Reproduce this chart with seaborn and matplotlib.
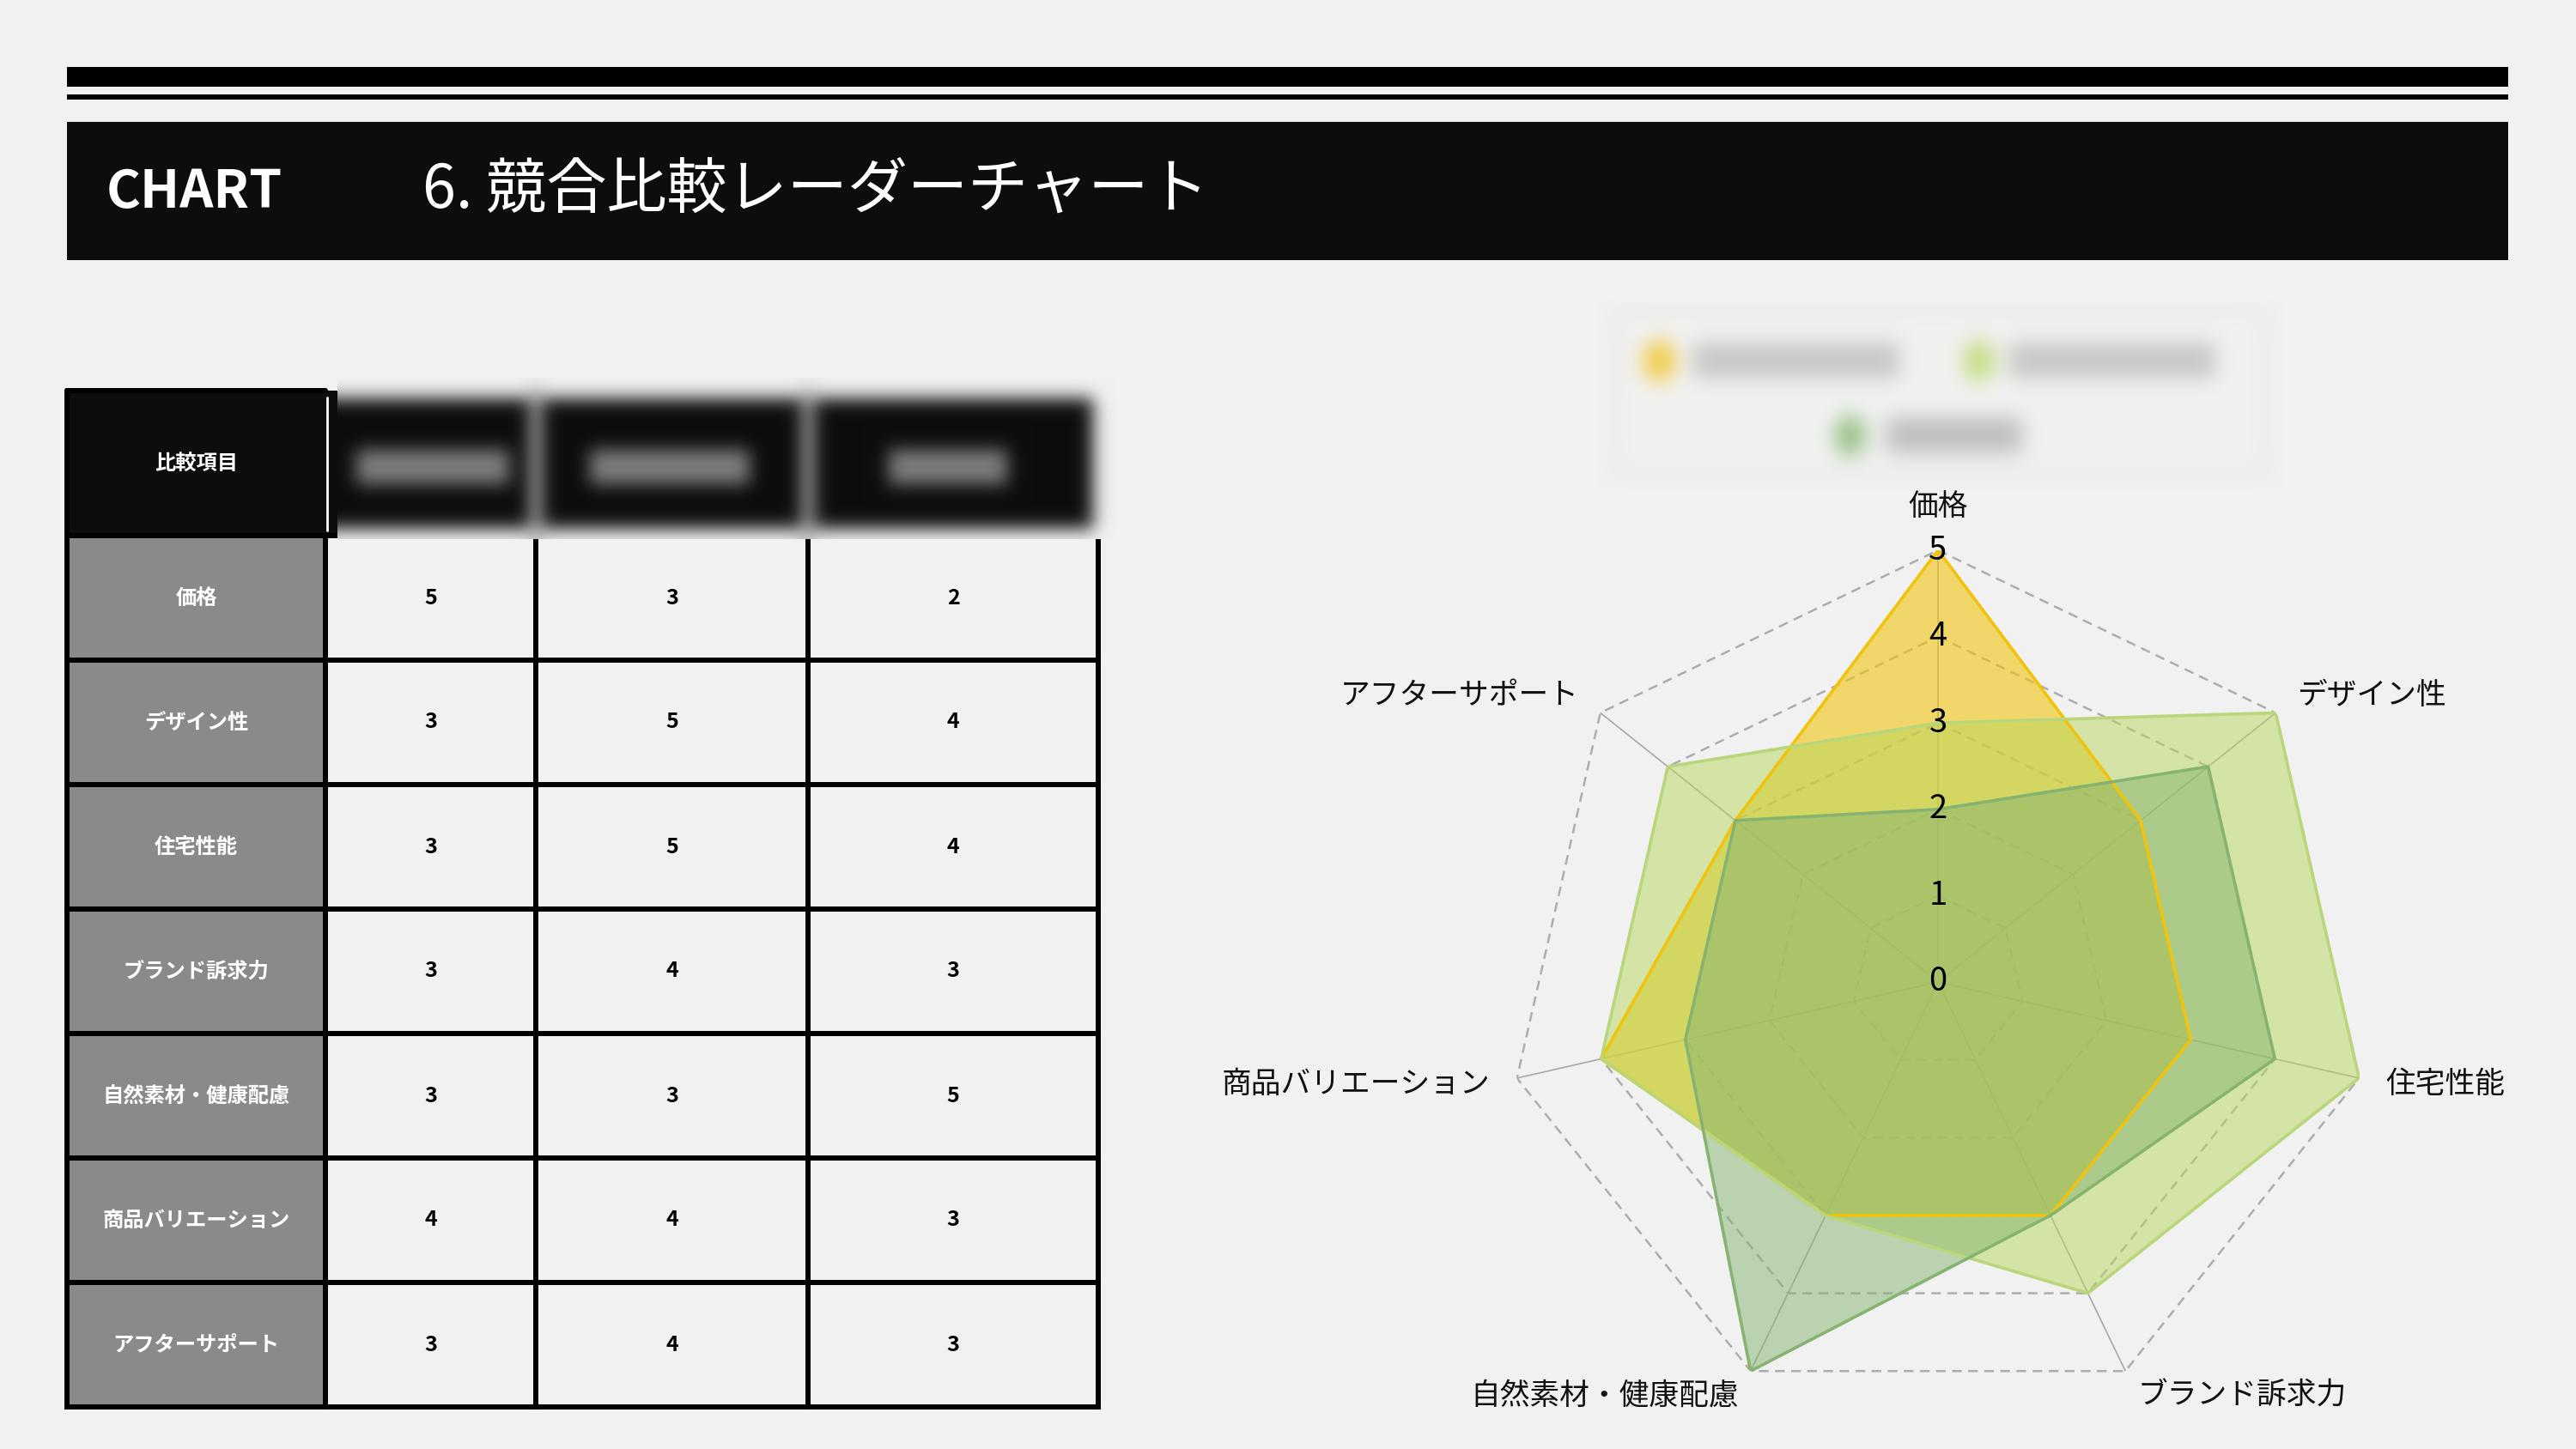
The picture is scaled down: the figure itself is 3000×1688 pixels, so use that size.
import numpy as np
import matplotlib
matplotlib.use('Agg')
import matplotlib.pyplot as plt
import matplotlib.colors as mcolors
from matplotlib.patches import Rectangle
import seaborn as sns

# ---- data ----
categories = ['価格', 'デザイン性', '住宅性能', 'ブランド訴求力',
              '自然素材・健康配慮', '商品バリエーション', 'アフターサポート']
company_a = [5, 3, 3, 3, 3, 4, 3]
company_b = [3, 5, 5, 4, 3, 4, 4]
company_c = [2, 4, 4, 3, 5, 3, 3]
r_ticks = [0, 1, 2, 3, 4, 5]
table_header = '比較項目'
title_tag = 'CHART'
title_text = '6. 競合比較レーダーチャート'

fill_colors = ['#F1C40F', '#B8D65C', '#86B470']
edge_colors = ['#F0C30E', '#B9D77A', '#86B470']
fill_alpha = [0.6, 0.5, 0.5]

BG = '#F1F1F1'
W, H = 3000, 1688

sns.set_theme(style='white')
plt.rcParams['font.family'] = ['Noto Sans CJK JP', 'DejaVu Sans']


def soft_block(width, height, shapes, sigma):
    """small blurred picture (used for the redacted header cells / legend)"""
    img = np.empty((height, width, 3))
    img[:] = mcolors.to_rgb(BG)
    yy, xx = np.mgrid[0:height, 0:width]
    for kind, x0, y0, x1, y1, col in shapes:
        rgb = np.array(mcolors.to_rgb(col))
        if kind == 'rect':
            img[y0:y1, x0:x1] = rgb
        else:
            cx, cy, rx, ry = (x0 + x1) / 2, (y0 + y1) / 2, (x1 - x0) / 2, (y1 - y0) / 2
            img[((xx - cx) / rx) ** 2 + ((yy - cy) / ry) ** 2 <= 1] = rgb
    k = np.arange(-3 * sigma, 3 * sigma + 1)
    k = np.exp(-k ** 2 / (2.0 * sigma ** 2))
    k /= k.sum()
    pad = len(k) // 2
    for axis in (0, 1):
        widths = [(pad, pad) if a == axis else (0, 0) for a in range(3)]
        p = np.pad(img, widths, mode='edge')
        out = np.zeros_like(img)
        n = img.shape[axis]
        for i, w in enumerate(k):
            sl = [slice(None)] * 3
            sl[axis] = slice(i, i + n)
            out += w * p[tuple(sl)]
        img = out
    return np.clip(img, 0, 1)


fig = plt.figure(figsize=(30, 16.88), dpi=100, facecolor=BG)

page = fig.add_axes([0, 0, 1, 1])
page.axis('off')

# ---- title band ----
page.add_patch(Rectangle((78, 78), 2843, 23, color='black', lw=0))
page.add_patch(Rectangle((78, 110), 2843, 6, color='black', lw=0))
page.add_patch(Rectangle((78, 142), 2843, 161, color='#0D0D0D', lw=0))
page.text(124, 224, title_tag, color='white', fontsize=44, fontweight='bold',
          ha='left', va='center')
page.text(492, 222, title_text, color='white', fontsize=50.5, ha='left', va='center')

# ---- table ----
col_w = [301, 245, 317, 338]
head_h, row_h = 169, 145
x_edges = np.concatenate([[78], 78 + np.cumsum(col_w)])
y_edges = np.concatenate([[455], 455 + head_h + row_h * np.arange(len(categories) + 1)])
columns = [company_a, company_b, company_c]
lw_tab = 4.3

page.add_patch(Rectangle((x_edges[0], y_edges[0]), 315, head_h, color='#0D0D0D', lw=0))
page.plot([x_edges[1] + 2] * 2, [y_edges[0] + 8, y_edges[1] - 6], color='white', lw=2)
page.text((x_edges[0] + x_edges[1]) / 2, (y_edges[0] + y_edges[1]) / 2, table_header,
          color='white', fontsize=17.5, fontweight='bold', ha='center', va='center')

for i, cat in enumerate(categories):
    y0, y1 = y_edges[i + 1], y_edges[i + 2]
    page.add_patch(Rectangle((x_edges[0], y0), col_w[0], row_h, color='#8A8A8A', lw=0))
    page.text((x_edges[0] + x_edges[1]) / 2, (y0 + y1) / 2, cat, color='white',
              fontsize=17.5, fontweight='bold', ha='center', va='center')
    for j, col in enumerate(columns):
        page.text((x_edges[j + 1] + x_edges[j + 2]) / 2, (y0 + y1) / 2, str(col[i]),
                  color='black', fontsize=18, fontweight='bold', ha='center', va='center')

for y in y_edges[1:]:
    page.plot([x_edges[0], x_edges[-1]], [y, y], color='black', lw=lw_tab,
              solid_capstyle='projecting')
page.plot([x_edges[0], x_edges[1]], [y_edges[0], y_edges[0]], color='black', lw=lw_tab)
page.plot([x_edges[0]] * 2, [y_edges[0], y_edges[-1]], color='black', lw=lw_tab)
for x in x_edges[1:]:
    page.plot([x, x], [y_edges[1], y_edges[-1]], color='black', lw=lw_tab)

# redacted column headers (blurred)
hx, hy = 393, 440
head_shapes = [
    ('rect', 0, 24, 880, 176, '#0D0D0D'),
    ('rect', 224, 10, 238, 188, '#B0B0B0'),
    ('rect', 541, 10, 555, 188, '#B0B0B0'),
    ('rect', 22, 84, 200, 124, '#7E7E7E'),
    ('rect', 294, 84, 480, 124, '#7E7E7E'),
    ('rect', 642, 84, 780, 124, '#7E7E7E'),
]
himg = soft_block(907, 188, head_shapes, 10)
page.imshow(himg, extent=(hx, hx + 907, hy + 188, hy), aspect='auto',
            interpolation='bilinear', zorder=3)

# redacted legend (blurred)
lx, ly = 1860, 350
leg_shapes = [
    ('rect', 20, 10, 780, 205, '#E2E2E2'),
    ('rect', 25, 15, 775, 200, BG),
    ('ellipse', 54, 46, 90, 94, '#F2C938'),
    ('rect', 112, 50, 352, 90, '#C6C6C6'),
    ('ellipse', 426, 46, 462, 94, '#C0DC7C'),
    ('rect', 480, 50, 720, 90, '#C6C6C6'),
    ('ellipse', 276, 133, 312, 181, '#94BE80'),
    ('rect', 337, 137, 495, 177, '#BDBDBD'),
]
limg = soft_block(800, 220, leg_shapes, 12)
page.imshow(limg, extent=(lx, lx + 800, ly + 220, ly), aspect='auto',
            interpolation='bilinear', zorder=3)

page.set_xlim(0, W)
page.set_ylim(H, 0)

# ---- radar ----
cx, cy, R = 2257, 1144, 503
rad = fig.add_axes([(cx - R) / W, (H - cy - R) / H, 2 * R / W, 2 * R / H],
                   projection='polar')
rad.set_facecolor('none')
rad.set_theta_zero_location('N')
rad.set_theta_direction(-1)
rad.grid(False)
rad.spines['polar'].set_visible(False)

n = len(categories)
angles = np.linspace(0, 2 * np.pi, n, endpoint=False)
ang_c = np.append(angles, angles[0] + 2 * np.pi)

for r in r_ticks[1:]:
    rad.plot(ang_c, [r] * (n + 1), color='#ADADAD', lw=1.8, ls=(0, (4.5, 3)), zorder=1)
for a in angles:
    rad.plot([a, a], [0, r_ticks[-1]], color='#A8A8A8', lw=1.2, zorder=1)

for vals, fc, ec, al in zip(columns, fill_colors, edge_colors, fill_alpha):
    v = np.append(vals, vals[0])
    rad.fill(ang_c, v, color=fc, alpha=al, lw=0, zorder=2)
    sns.lineplot(x=ang_c, y=v, sort=False, color=ec, lw=2.6, ax=rad, zorder=3)

for r in r_ticks:
    rad.text(0, r, str(r), ha='center', va='center', fontsize=27.5, color='black', zorder=5)

pad = 23
for a, cat in zip(angles, categories):
    s, c = np.sin(a), np.cos(a)
    if abs(s) < 0.1:
        ha, va = 'center', ('bottom' if c > 0 else 'top')
    else:
        ha, va = ('left' if s > 0 else 'right'), 'center'
    rad.annotate(cat, xy=(a, r_ticks[-1]), xytext=(pad * s, pad * c),
                 textcoords='offset points', ha=ha, va=va, fontsize=25, color='#111111')

rad.set_ylim(0, r_ticks[-1])
rad.set_xticks([])
rad.set_yticks([])
rad.set_xlabel('')
rad.set_ylabel('')

fig.savefig('out.png', dpi=100, facecolor=BG)
